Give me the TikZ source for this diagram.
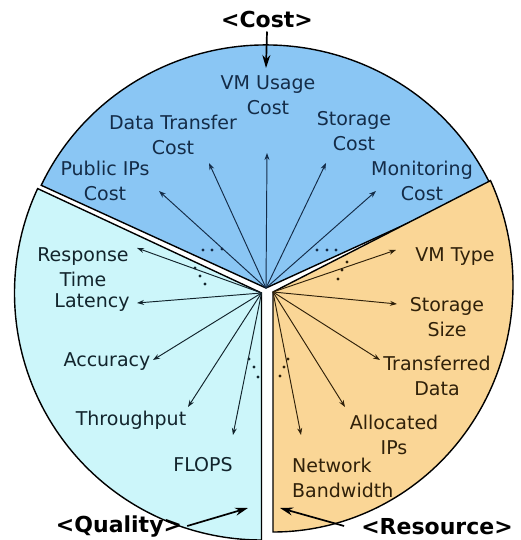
\documentclass[tikz,border=0pt]{standalone}
\usepackage{fontspec}
\setmainfont{DejaVu Sans}
\usetikzlibrary{arrows.meta}
\definecolor{costfill}{RGB}{138,198,244}
\definecolor{qualfill}{RGB}{204,246,250}
\definecolor{resfill}{RGB}{250,214,150}
\definecolor{costink}{RGB}{20,44,72}
\definecolor{qualink}{RGB}{18,36,44}
\definecolor{resink}{RGB}{48,33,10}
\tikzset{
  sector/.style={draw=black,line width=1.4pt},
  arr/.style={-{Stealth[length=7pt,width=5pt]},line width=0.95pt},
  bigarr/.style={-{Stealth[length=13pt,width=8pt]},line width=1.7pt},
  lbl/.style={align=center,inner sep=0pt,font=\fontsize{19}{25}\selectfont},
  head/.style={inner sep=0pt,font=\bfseries\fontsize{22}{26}\selectfont}
}
\begin{document}
\begin{tikzpicture}[x=1pt,y=1pt]
\useasboundingbox (0,0) rectangle (521,540);
% apexes of the three sectors
\coordinate (c0) at (266,252);
\coordinate (q0) at (261.5,247);
\coordinate (r0) at (273,248);
% sectors
\draw[sector,fill=costfill] (c0) -- ++(25:248 and 243) arc[start angle=25,end angle=155,x radius=248,y radius=243] -- cycle;
\draw[sector,fill=qualfill] (q0) -- ++(155:247) arc[start angle=155,end angle=270,radius=247] -- cycle;
\draw[sector,fill=resfill] (r0) -- ++(270:247 and 240) arc[start angle=-90,end angle=25,x radius=240,y radius=247] -- cycle;
% cost
\node[lbl,text=costink] (vmcost) at (268,445) {VM Usage\\Cost};
\node[lbl,text=costink] (dtcost) at (173,405) {Data Transfer\\Cost};
\node[lbl,text=costink] (stcost) at (354,408.5) {Storage\\Cost};
\node[lbl,text=costink] (ipcost) at (105,359.5) {Public IPs\\Cost};
\node[lbl,text=costink] (mncost) at (422,359.5) {Monitoring\\Cost};
\coordinate (vmcostT) at (267,387);
\coordinate (dtcostT) at (209,377);
\coordinate (stcostT) at (326,377);
\coordinate (ipcostT) at (159,349);
\coordinate (mncostT) at (376,349);
\draw[arr,costink] (c0) -- (vmcostT);
\draw[arr,costink] (c0) -- (dtcostT);
\draw[arr,costink] (c0) -- (stcostT);
\draw[arr,costink] (c0) -- (ipcostT);
\draw[arr,costink] (c0) -- (mncostT);
\fill[costink] (203,290) circle (1.6) (212,290) circle (1.6) (222,291) circle (1.6);
\fill[costink] (317,290) circle (1.6) (327,290) circle (1.6) (336,290) circle (1.6);
% quality
\node[lbl,text=qualink] (resp) at (83,272.5) {Response\\Time};
\node[lbl,text=qualink] (lat) at (92,237) {Latency};
\node[lbl,text=qualink] (acc) at (107,178) {Accuracy};
\node[lbl,text=qualink] (thr) at (131,120) {Throughput};
\node[lbl,text=qualink] (flops) at (203,75) {FLOPS};
\coordinate (respT) at (137,292);
\coordinate (latT) at (137,237);
\coordinate (accT) at (153,180);
\coordinate (thrT) at (188,133);
\coordinate (flopsT) at (233,105);
\draw[arr,qualink] (q0) -- (respT);
\draw[arr,qualink] (q0) -- (latT);
\draw[arr,qualink] (q0) -- (accT);
\draw[arr,qualink] (q0) -- (thrT);
\draw[arr,qualink] (q0) -- (flopsT);
\fill[qualink] (195,272) circle (1.6) (200,264) circle (1.6) (205,256) circle (1.6);
\fill[qualink] (249,181) circle (1.6) (254,173) circle (1.6) (258,163) circle (1.6);
% resource
\node[lbl,text=resink] (vmtype) at (455,283) {VM Type};
\node[lbl,text=resink] (stsize) at (447,223) {Storage\\Size};
\node[lbl,text=resink] (trdata) at (437,164.5) {Transferred\\Data};
\node[lbl,text=resink] (allips) at (394,105.5) {Allocated\\IPs};
\node[lbl,text=resink,align=left,anchor=west] (netbw) at (292,62) {Network\\Bandwidth};
\coordinate (vmtypeT) at (396,290);
\coordinate (stsizeT) at (397,236);
\coordinate (trdataT) at (380,180);
\coordinate (allipsT) at (345,133);
\coordinate (netbwT) at (301,105);
\draw[arr,resink] (r0) -- (vmtypeT);
\draw[arr,resink] (r0) -- (stsizeT);
\draw[arr,resink] (r0) -- (trdataT);
\draw[arr,resink] (r0) -- (allipsT);
\draw[arr,resink] (r0) -- (netbwT);
\fill[resink] (347,278) circle (1.6) (342,270) circle (1.6) (338,261) circle (1.6);
\fill[resink] (288,181) circle (1.6) (284,173) circle (1.6) (280,164) circle (1.6);
% headings
\node[head] (costh) at (267,520) {<Cost>};
\node[head] (qualh) at (119,13) {<Quality>};
\node[head] (resh) at (437,13) {<Resource>};
\coordinate (costT) at (266,472);
\coordinate (qualT) at (248,32);
\coordinate (resT) at (280,32);
\draw[bigarr] ([yshift=-3pt]costh.south) -- (costT);
\draw[bigarr] ([xshift=5pt,yshift=1pt]qualh.east) -- (qualT);
\draw[bigarr] ([xshift=-17pt,yshift=1pt]resh.west) -- (resT);
\end{tikzpicture}
\end{document}
